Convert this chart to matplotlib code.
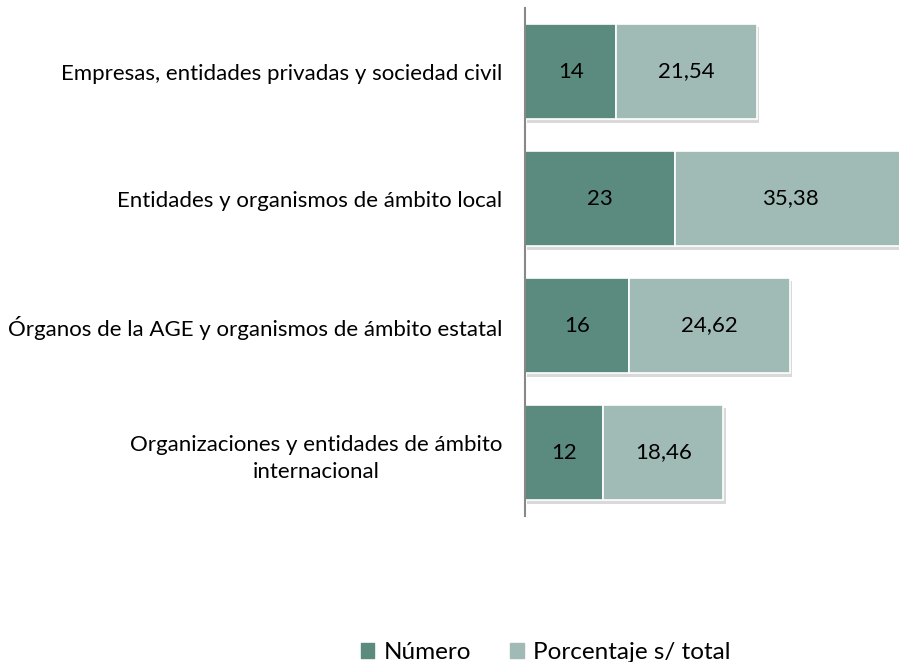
import matplotlib.pyplot as plt
import matplotlib.patheffects as pe
from matplotlib.patches import Patch

categorias = ['Empresas, entidades privadas y sociedad civil',
              'Entidades y organismos de ámbito local',
              'Órganos de la AGE y organismos de ámbito estatal',
              'Organizaciones y entidades de ámbito\ninternacional']
numero = [14, 23, 16, 12]
porcentaje = [21.54, 35.38, 24.62, 18.46]
etiquetas_pct = ['21,54', '35,38', '24,62', '18,46']

c_num = '#5B8A7E'
c_pct = '#A0BAB5'

plt.rcParams['font.family'] = ['Lato', 'DejaVu Sans']

fig = plt.figure(figsize=(8.99, 6.62), dpi=100)
ax = fig.add_axes([0.584, 0.2205, 0.416, 0.7674])

shadow = [pe.SimplePatchShadow(offset=(1.5, -2.5), shadow_rgbFace='black', alpha=0.15), pe.Normal()]

y = list(range(len(categorias)))
b1 = ax.barh(y, numero, height=0.75, color=c_num, edgecolor='white', linewidth=1.2)
b2 = ax.barh(y, porcentaje, left=numero, height=0.75, color=c_pct, edgecolor='white',
             linewidth=1.2)
for b in list(b1) + list(b2):
    b.set_path_effects(shadow)

for i in y:
    ax.text(numero[i] / 2, i, str(numero[i]), ha='center', va='center', fontsize=16, color='black')
    ax.text(numero[i] + porcentaje[i] / 2, i, etiquetas_pct[i], ha='center', va='center',
            fontsize=16, color='black')

ax.set_xlim(0, 57.4)
ax.set_ylim(3.5, -0.5)
ax.set_yticks(y)
ax.set_yticklabels(categorias, fontsize=16, multialignment='center', linespacing=1.45)
ax.tick_params(axis='y', length=0, pad=16.5)
ax.set_xticks([])
for s in ['top', 'right', 'bottom']:
    ax.spines[s].set_visible(False)
ax.spines['left'].set_color('#888888')
ax.spines['left'].set_linewidth(1.5)

handles = [Patch(color=c_num, label='Número'), Patch(color=c_pct, label='Porcentaje s/ total')]
fig.legend(handles=handles, loc='center', bbox_to_anchor=(0.607, 0.014), ncol=2,
           frameon=False, fontsize=17.5, handlelength=0.55, handleheight=0.55,
           handletextpad=0.4, columnspacing=1.6)

fig.savefig('out.png', dpi=100)
